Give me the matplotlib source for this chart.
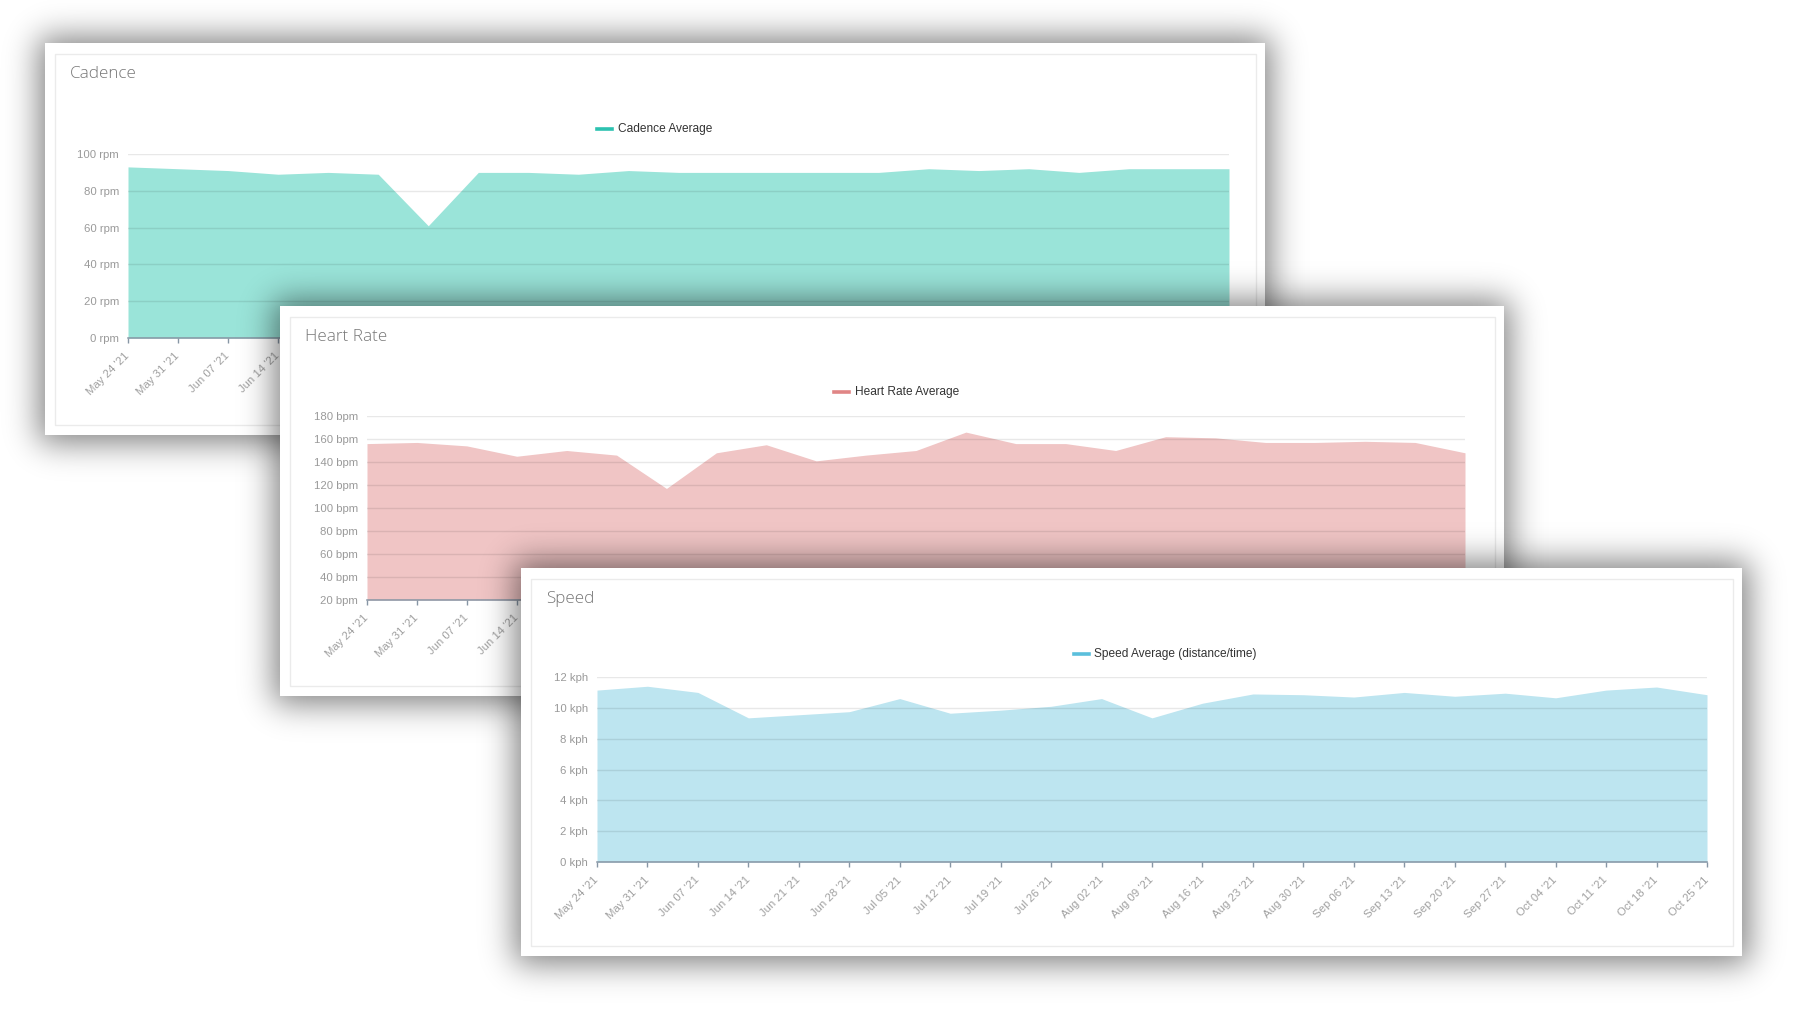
import math
import numpy as np
import matplotlib
matplotlib.use("Agg")
import matplotlib.pyplot as plt
from matplotlib.patches import Rectangle
from matplotlib.lines import Line2D

# --- data ---
weeks = ["May 24 '21", "May 31 '21", "Jun 07 '21", "Jun 14 '21", "Jun 21 '21", "Jun 28 '21",
         "Jul 05 '21", "Jul 12 '21", "Jul 19 '21", "Jul 26 '21", "Aug 02 '21", "Aug 09 '21",
         "Aug 16 '21", "Aug 23 '21", "Aug 30 '21", "Sep 06 '21", "Sep 13 '21", "Sep 20 '21",
         "Sep 27 '21", "Oct 04 '21", "Oct 11 '21", "Oct 18 '21", "Oct 25 '21"]
cadence = [93, 92, 91, 89, 90, 89, 61, 90, 90, 89, 91, 90, 90, 90, 90, 90, 92, 91, 92, 90, 92, 92, 92]
heart_rate = [156, 157, 154, 145, 150, 146, 117, 148, 155, 141, 146, 150, 166, 156, 156, 150,
              162, 161, 157, 157, 158, 157, 148]
speed = [11.15, 11.4, 11.0, 9.35, 9.55, 9.75, 10.6, 9.65, 9.85, 10.1, 10.6, 9.35, 10.3, 10.9,
         10.85, 10.7, 11.0, 10.75, 10.95, 10.65, 11.15, 11.35, 10.85]

cadence_ticks = [0, 20, 40, 60, 80, 100]
hr_ticks = [20, 40, 60, 80, 100, 120, 140, 160, 180]
speed_ticks = [0, 2, 4, 6, 8, 10, 12]

W, H = 1794, 1022
fig = plt.figure(figsize=(W / 100, H / 100), dpi=100)
fig.patch.set_facecolor("white")

erf = np.vectorize(math.erf)


def soft_box(coords, a, b, s):
    return 0.5 * (erf((coords - a) / (s * math.sqrt(2))) - erf((coords - b) / (s * math.sqrt(2))))


def card(z, box, plot_box, title, legend, fill_col, leg_col, vals, ticks, unit):
    x0, y0, x1, y1 = box
    bg = fig.add_axes([0, 0, 1, 1], zorder=z)
    bg.patch.set_visible(False)
    bg.axis("off")

    # shadow
    m = 80
    xs = np.arange(x0 - m, x1 + m)
    ys = np.arange(y0 - m, y1 + m)
    sx = soft_box(xs + 0.5, x0 - 6, x1 + 6, 16)
    sy = soft_box(ys + 0.5, y0 - 6, y1 + 8, 16)
    alpha = 0.5 * np.outer(sy, sx)
    img = np.zeros((len(ys), len(xs), 4))
    img[..., 3] = alpha
    bg.imshow(img, extent=(x0 - m, x1 + m, y1 + m, y0 - m), aspect="auto", interpolation="bilinear")

    bg.add_patch(Rectangle((x0, y0), x1 - x0, y1 - y0, facecolor="white", edgecolor="none"))
    bg.add_patch(Rectangle((x0 + 10, y0 + 11), x1 - x0 - 19, y1 - y0 - 21,
                           facecolor="none", edgecolor="#ebebeb", lw=1))
    bg.text(x0 + 25, y0 + 31, title, fontsize=12.3, family="Open Sans", fontweight="light",
            color="#777777", va="center", ha="left")

    cx = (x0 + x1) / 2
    ly = y0 + 86
    bg.add_line(Line2D([cx - 58, cx - 43], [ly, ly], color=leg_col, lw=2.6))
    bg.text(cx - 37, ly, legend, fontsize=8.6, family="Liberation Sans", color="#333333",
            va="center", ha="left")
    bg.set_xlim(0, W)
    bg.set_ylim(H, 0)

    # chart
    px0, py0, px1, py1 = plot_box
    ax = fig.add_axes([px0 / W, 1 - py1 / H, (px1 - px0) / W, (py1 - py0) / H], zorder=z + 0.5)
    ax.patch.set_visible(False)
    x = np.arange(len(vals))
    ax.fill_between(x, vals, ticks[0], color=fill_col, lw=0)
    ax.set_xlim(0, len(vals) - 1)
    ax.set_ylim(ticks[0], ticks[-1])
    ax.set_yticks(ticks)
    ax.set_yticklabels([f"{t} {unit}" for t in ticks])
    ax.set_xticks(x)
    ax.set_xticklabels(weeks, rotation=45, ha="right", va="center", rotation_mode="anchor")
    ax.yaxis.grid(True, color="#000000", alpha=0.09, lw=1)
    for sp in ["top", "left", "right"]:
        ax.spines[sp].set_visible(False)
    ax.spines["bottom"].set_color("#8796a5")
    ax.spines["bottom"].set_linewidth(1.1)
    ax.tick_params(axis="y", length=0, pad=6.5, labelsize=8.2, labelcolor="#9a9a9a")
    ax.tick_params(axis="x", length=3.8, width=1, color="#8796a5", pad=8,
                   labelsize=8.2, labelcolor="#a0a0a0")
    for lab in ax.get_xticklabels() + ax.get_yticklabels():
        lab.set_family("Liberation Sans")
    return ax


card(1, (45, 43, 1265, 435), (128, 154, 1229, 338), "Cadence", "Cadence Average",
     "#9ae4d9", "#2cc2b0", cadence, cadence_ticks, "rpm")
card(3, (280, 306, 1504, 696), (367, 416, 1465, 600), "Heart Rate", "Heart Rate Average",
     "#f0c5c5", "#e08585", heart_rate, hr_ticks, "bpm")
card(5, (521, 568, 1742, 956), (597, 677, 1707, 862), "Speed", "Speed Average (distance/time)",
     "#bde5f0", "#5bbfdc", speed, speed_ticks, "kph")

fig.savefig("out.png", dpi=100, facecolor="white")
